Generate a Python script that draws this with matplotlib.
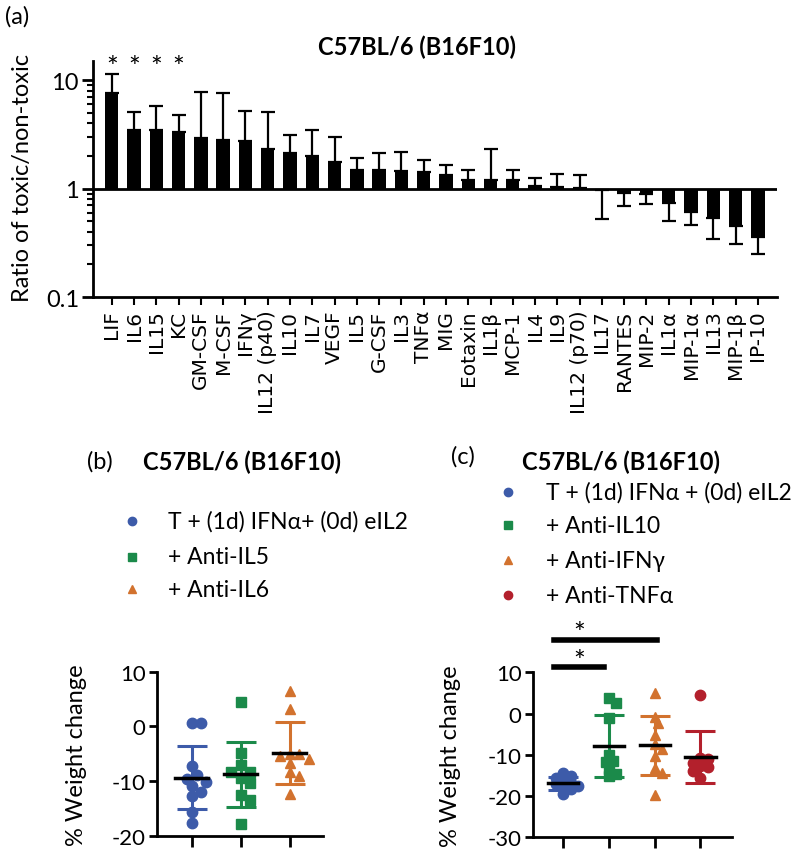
import numpy as np
import matplotlib
matplotlib.use('Agg')
import matplotlib.pyplot as plt
from matplotlib.lines import Line2D

plt.rcParams['font.family'] = ['Lato', 'DejaVu Sans']

# ---- panel (a) data: ratio toxic / non-toxic, with one sided error
cytokines = ['LIF', 'IL6', 'IL15', 'KC', 'GM-CSF', 'M-CSF', 'IFNγ', 'IL12 (p40)',
             'IL10', 'IL7', 'VEGF', 'IL5', 'G-CSF', 'IL3', 'TNFα', 'MIG', 'Eotaxin',
             'IL1β', 'MCP-1', 'IL4', 'IL9', 'IL12 (p70)', 'IL17', 'RANTES', 'MIP-2',
             'IL1α', 'MIP-1α', 'IL13', 'MIP-1β', 'IP-10']
ratio = [7.55, 3.5, 3.5, 3.3, 2.93, 2.81, 2.77, 2.34, 2.15, 2.0, 1.76, 1.49, 1.49,
         1.46, 1.41, 1.33, 1.21, 1.19, 1.19, 1.06, 1.03, 1.01, 0.97, 0.92, 0.90,
         0.74, 0.61, 0.54, 0.45, 0.36]
err_end = [11.5, 5.1, 5.8, 4.8, 7.7, 7.6, 5.2, 5.1, 3.1, 3.45, 3.0, 1.92, 2.13,
           2.19, 1.82, 1.65, 1.47, 2.34, 1.49, 1.24, 1.37, 1.33, 0.52, 0.69, 0.72,
           0.50, 0.46, 0.34, 0.31, 0.25]
signif = ['LIF', 'IL6', 'IL15', 'KC']

# ---- panel (b) data: % weight change
groups_b = ['T + (1d) IFNα+ (0d) eIL2', '+ Anti-IL5', '+ Anti-IL6']
b_ctrl = [0.6, 0.6, -7.3, -8.9, -9.6, -10.2, -11.0, -12.0, -12.7, -15.7, -17.6]
b_il5 = [4.5, -4.9, -7.1, -8.3, -8.4, -9.5, -10.4, -12.6, -13.4, -17.9]
b_il6 = [6.4, 3.2, -5.0, -5.0, -5.4, -6.0, -6.7, -8.4, -9.1, -12.4]

# ---- panel (c) data
groups_c = ['T + (1d) IFNα + (0d) eIL2', '+ Anti-IL10', '+ Anti-IFNγ', '+ Anti-TNFα']
c_ctrl = [-14.5, -15.1, -15.5, -16.3, -16.8, -17.1, -17.5, -17.9, -18.4, -19.6]
c_il10 = [2.5, 3.7, -1.0, -10.0, -11.5, -11.8, -13.5, -14.7, -15.1]
c_ifng = [4.9, -0.8, -2.2, -5.3, -7.4, -8.5, -10.3, -13.3, -14.3, -19.8]
c_tnfa = [4.5, -10.7, -11.1, -12.0, -12.7, -13.0, -13.9, -15.5]

blue = '#3D5BA9'
green = '#1B8A4A'
orange = '#D2722E'
red = '#B3202C'


def swarm(vals, sx, sy, d=10.0):
    # simple beeswarm: offsets in data units, sx/sy = pixels per data unit
    vals = np.asarray(vals, float)
    offs = np.zeros(len(vals))
    placed = []
    for i in np.argsort(vals)[::-1]:
        for k in [0, 1, -1, 2, -2, 3, -3, 4, -4]:
            ox = k * 0.55 * d / sx
            if all(np.hypot((ox - px) * sx, (vals[i] - py) * sy) >= d for px, py in placed):
                break
        offs[i] = ox
        placed.append((ox, vals[i]))
    return offs


def dotplot(ax, data, colors, markers, sx, sy, d):
    for i, (v, c, m) in enumerate(zip(data, colors, markers)):
        v = np.asarray(v, float)
        xs = i + swarm(v, sx, sy, d)
        ax.plot(xs, v, linestyle='none', marker=m, color=c, markersize=7.5, zorder=2)
        mu, sd = v.mean(), v.std(ddof=1)
        ax.errorbar(i, mu, yerr=sd, fmt='none', ecolor=c, elinewidth=2.2,
                    capsize=11, capthick=2.2, zorder=3)
        ax.plot([i - 0.33, i + 0.33], [mu, mu], color='k', lw=2.5, zorder=4)


def style_weight_axes(ax, n, ylim):
    for s in ['top', 'right']:
        ax.spines[s].set_visible(False)
    for s in ['left', 'bottom']:
        ax.spines[s].set_linewidth(2)
    ax.set_xticks(range(n))
    ax.set_xticklabels([])
    ax.tick_params(axis='x', length=8, width=2, direction='out')
    ax.tick_params(axis='y', length=6, width=2, direction='out', labelsize=16, pad=2)
    ax.set_ylim(*ylim)
    ax.set_yticks(np.arange(ylim[0], ylim[1] + 1, 10))
    ax.set_yticklabels([str(int(t)) for t in np.arange(ylim[0], ylim[1] + 1, 10)])
    ax.set_ylabel('% Weight change', fontsize=17)


fig = plt.figure(figsize=(8, 8.53), dpi=100)

# ================= (a)
ax = fig.add_axes([0.116, 0.6506, 0.855, 0.2767])
x = np.arange(len(cytokines))
r = np.array(ratio)
e = np.array(err_end)
ax.set_yscale('log')
ax.bar(x, r - 1, bottom=1, width=0.6, color='k', zorder=2)
up = np.where(r >= 1, e - r, 0)
lo = np.where(r < 1, r - e, 0)
ax.errorbar(x, r, yerr=[lo, up], fmt='none', ecolor='k', elinewidth=1.6,
            capsize=5, capthick=1.6, zorder=1)
ax.axhline(1, color='k', lw=2, zorder=3)
ax.set_xlim(-0.85, 29.85)
ax.set_ylim(0.1, 15)
for s in ['top', 'right']:
    ax.spines[s].set_visible(False)
for s in ['left', 'bottom']:
    ax.spines[s].set_linewidth(2)
ax.tick_params(axis='y', which='major', length=8, width=2, labelsize=17, pad=2)
ax.tick_params(axis='y', which='minor', length=4, width=1.5)
ax.tick_params(axis='x', length=6, width=1.5, pad=3)
ax.set_yticks([0.1, 1, 10])
ax.set_yticklabels(['0.1', '1', '10'])
ax.set_xticks(x)
ax.set_xticklabels(cytokines, rotation=90)
for lab in ax.get_xticklabels():
    lab.set_fontfamily(['DejaVu Sans'])
    lab.set_fontsize(14.5)
ax.set_ylabel('Ratio of toxic/non-toxic', fontsize=17)
ax.yaxis.set_label_coords(-0.088, 0.51)
for name in signif:
    ax.text(cytokines.index(name), 13.0, '*', ha='center', va='center',
            fontsize=20, clip_on=False)
fig.text(0.521, 0.945, 'C57BL/6 (B16F10)', ha='center', va='center',
         fontsize=17, fontweight='bold')
fig.text(0.006, 0.98, '(a)', ha='left', va='center', fontsize=17)

# ================= (b)
axb = fig.add_axes([0.196, 0.0191, 0.2075, 0.1923])
dotplot(axb, [b_ctrl, b_il5, b_il6], [blue, green, orange], ['o', 's', '^'],
        49, 5.47, 9)
axb.set_xlim(-0.71, 2.68)
style_weight_axes(axb, 3, (-20, 10))
axb.yaxis.set_label_coords(-0.42, 0.5)
fig.text(0.125, 0.4584, '(b)', ha='center', va='center', fontsize=17)
fig.text(0.3025, 0.4584, 'C57BL/6 (B16F10)', ha='center', va='center',
         fontsize=17, fontweight='bold')
rows_b = [0.388, 0.346, 0.308]
for lab, c, m, yy in zip(groups_b, [blue, green, orange], ['o', 's', '^'], rows_b):
    fig.add_artist(Line2D([0.1646], [yy], marker=m, color=c, markersize=6,
                          linestyle='none', transform=fig.transFigure))
    fig.text(0.21, yy, lab, ha='left', va='center', fontsize=16.5)

# ================= (c)
axc = fig.add_axes([0.666, 0.0172, 0.249, 0.1934])
dotplot(axc, [c_ctrl, c_il10, c_ifng, c_tnfa], [blue, green, orange, red],
        ['o', 's', '^', 'o'], 45.6, 4.125, 6.5)
axc.set_xlim(-0.67, 3.69)
style_weight_axes(axc, 4, (-30, 10))
axc.yaxis.set_label_coords(-0.36, 0.5)
# significance bars
axc.plot([-0.2, 2.05], [17.8, 17.8], color='k', lw=4, clip_on=False)
axc.text(0.35, 19.2, '*', ha='center', va='center', fontsize=20, clip_on=False)
axc.plot([-0.2, 0.89], [11.4, 11.4], color='k', lw=4, clip_on=False)
axc.text(0.35, 12.6, '*', ha='center', va='center', fontsize=20, clip_on=False)
fig.text(0.579, 0.464, '(c)', ha='center', va='center', fontsize=17)
fig.text(0.776, 0.4584, 'C57BL/6 (B16F10)', ha='center', va='center',
         fontsize=17, fontweight='bold')
rows_c = [0.422, 0.383, 0.342, 0.301]
for lab, c, m, yy in zip(groups_c, [blue, green, orange, red], ['o', 's', '^', 'o'], rows_c):
    fig.add_artist(Line2D([0.635], [yy], marker=m, color=c, markersize=6,
                          linestyle='none', transform=fig.transFigure))
    fig.text(0.6825, yy, lab, ha='left', va='center', fontsize=16.5)

fig.savefig('out.png', dpi=100)
